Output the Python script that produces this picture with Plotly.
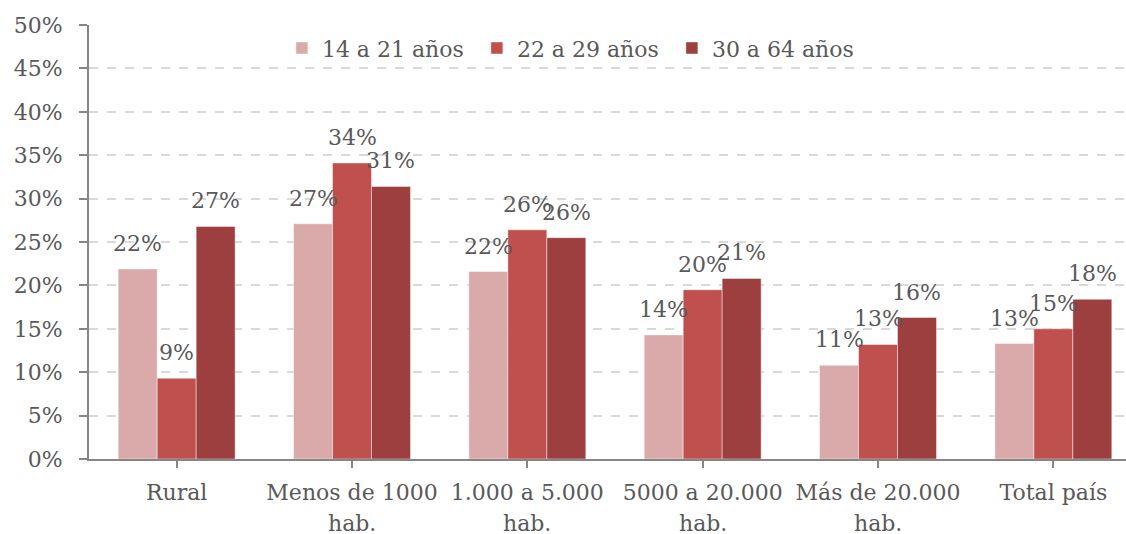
import plotly.graph_objects as go

categories = ["Rural", "Menos de 1000<br>hab.", "1.000 a 5.000<br>hab.",
              "5000 a 20.000<br>hab.", "Más de 20.000<br>hab.", "Total país"]
series_names = ["14 a 21 años", "22 a 29 años", "30 a 64 años"]
v_14_21 = [0.219, 0.271, 0.216, 0.143, 0.108, 0.133]
v_22_29 = [0.093, 0.341, 0.264, 0.195, 0.132, 0.150]
v_30_64 = [0.268, 0.314, 0.255, 0.208, 0.163, 0.184]
y_ticks = [0, 0.05, 0.10, 0.15, 0.20, 0.25, 0.30, 0.35, 0.40, 0.45, 0.50]
y_tick_labels = ["0%", "5%", "10%", "15%", "20%", "25%", "30%", "35%", "40%", "45%", "50%"]

colors = ["#DAA9A9", "#C0504D", "#9C3F3E"]
FONT = "DejaVu Serif"
TXT = "#595959"
all_series = [v_14_21, v_22_29, v_30_64]

fig = go.Figure()
xs = list(range(len(categories)))
for name, vals, col in zip(series_names, all_series, colors):
    fig.add_trace(go.Bar(
        x=xs, y=vals, name=name,
        marker=dict(color=col, line=dict(color="rgba(255,255,255,0.45)", width=1)),
    ))

bargap = 0.333
bw = (1 - bargap) / 3
for si, vals in enumerate(all_series):
    off = (si - 1) * bw
    for i, v in enumerate(vals):
        fig.add_annotation(
            x=i + off, y=v, xref="x", yref="y",
            text=f"{round(v*100):.0f}%", showarrow=False,
            yanchor="bottom", yshift=11,
            font=dict(family=FONT, size=22, color=TXT),
        )

# category labels: first line as tick label, second line as annotation (wider line spacing)
first_lines = [c.split("<br>")[0] for c in categories]
for i, c in enumerate(categories):
    parts = c.split("<br>")
    if len(parts) > 1:
        fig.add_annotation(
            x=i, y=0, xref="x", yref="paper", text=parts[1], showarrow=False,
            yanchor="top", yshift=-50,
            font=dict(family=FONT, size=22, color=TXT),
        )

fig.update_layout(
    width=1126, height=534,
    margin=dict(l=89, r=0, t=25, b=75),
    paper_bgcolor="white", plot_bgcolor="white",
    barmode="group", bargap=bargap, bargroupgap=0,
    font=dict(family=FONT, size=22, color=TXT),
    showlegend=True,
    legend=dict(orientation="h", x=0.186, xanchor="left", y=0.995, yanchor="top",
                bgcolor="rgba(0,0,0,0)", font=dict(family=FONT, size=22, color=TXT),
                itemwidth=30, traceorder="normal",
                entrywidth=150, entrywidthmode="pixels"),
)
fig.update_xaxes(
    tickmode="array", tickvals=xs, ticktext=first_lines,
    range=[-0.5, 5.5 - 15 / 175.3],
    showline=True, linecolor="#868686", linewidth=2,
    ticks="outside", tickson="boundaries", ticklen=7, tickcolor="#868686", tickwidth=2,
    showgrid=False, ticklabelstandoff=6, automargin=False,
    tickfont=dict(family=FONT, size=22, color=TXT),
)
fig.update_yaxes(
    range=[0, 0.5], tickvals=y_ticks, ticktext=y_tick_labels,
    showline=True, linecolor="#868686", linewidth=2,
    ticks="outside", ticklen=8, tickcolor="#868686", tickwidth=2,
    showgrid=True, gridcolor="#D9D9D9", griddash="dash", gridwidth=1.5,
    zeroline=False, ticklabelstandoff=12, automargin=False,
    tickfont=dict(family=FONT, size=22, color=TXT),
)

fig.write_html("out.html", config={"displayModeBar": False},
               post_script="document.body.style.margin='0';document.body.style.overflow='hidden';")
